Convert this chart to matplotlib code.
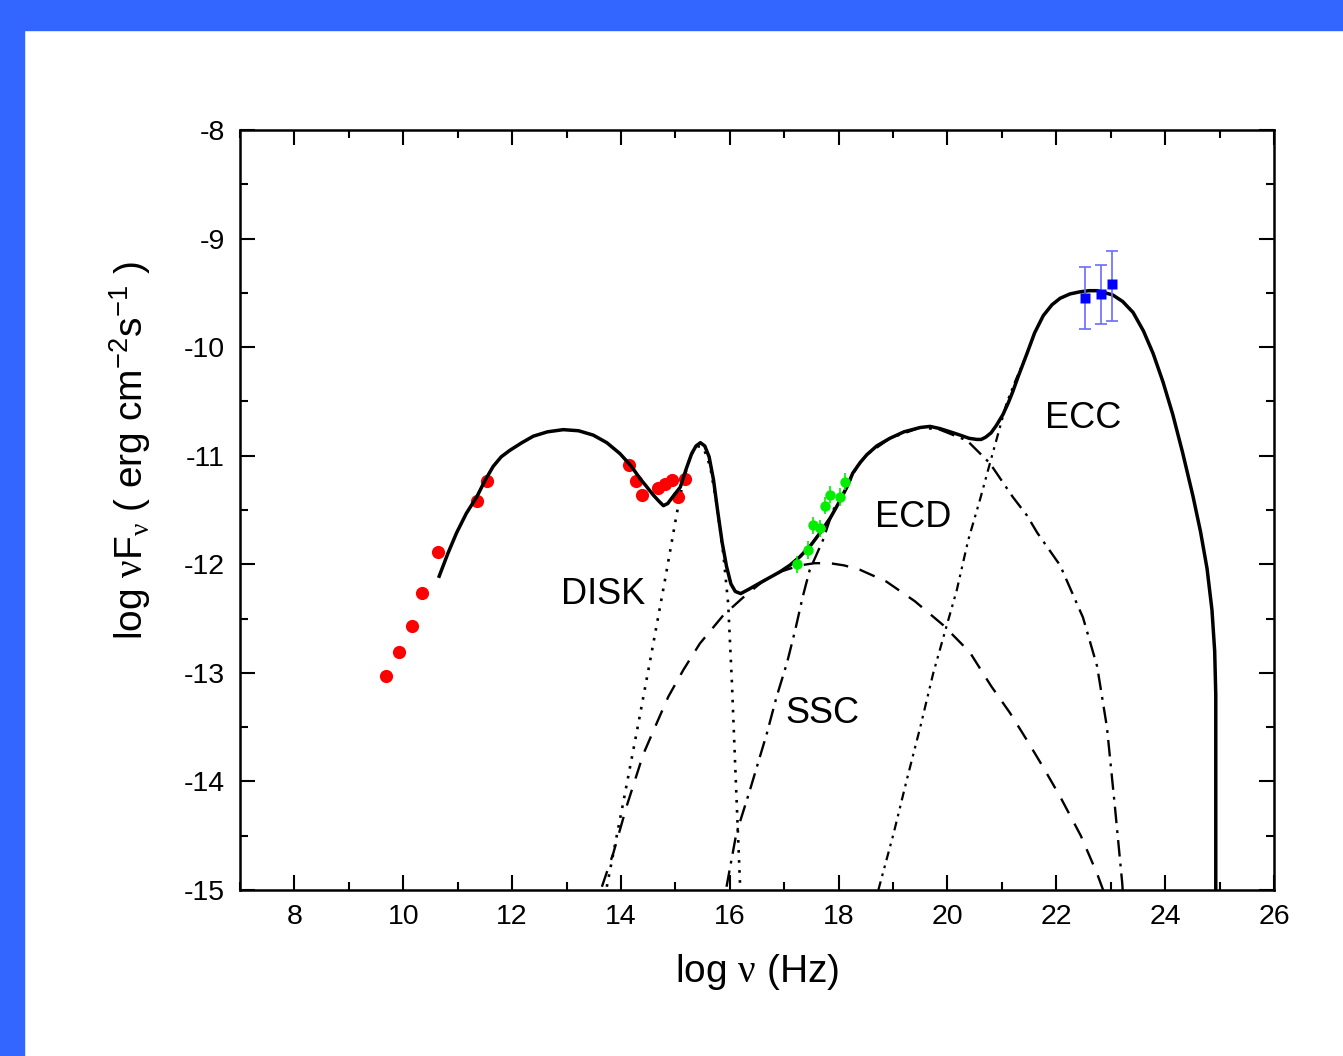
import numpy as np
import matplotlib
matplotlib.use('Agg')
import matplotlib.pyplot as plt
from matplotlib.patches import Rectangle
from matplotlib.ticker import MultipleLocator

plt.rcParams['font.family'] = ['Liberation Sans', 'DejaVu Sans']
plt.rcParams['axes.unicode_minus'] = False
plt.rcParams['mathtext.fontset'] = 'custom'
plt.rcParams['mathtext.rm'] = 'Liberation Sans'
plt.rcParams['mathtext.it'] = 'Liberation Serif'
plt.rcParams['mathtext.default'] = 'rm'

# observed points (log nu, log nuFnu)
red_x = [9.68, 9.92, 10.16, 10.34, 10.64, 11.355, 11.54, 14.15, 14.28, 14.39, 14.68, 14.81, 14.94, 15.05, 15.18]
red_y = [-13.03, -12.81, -12.57, -12.26, -11.89, -11.42, -11.23, -11.09, -11.23, -11.36, -11.30, -11.26, -11.22, -11.38, -11.21]

green_x = [17.23, 17.43, 17.53, 17.66, 17.75, 17.84, 18.03, 18.12]
green_y = [-12.00, -11.87, -11.64, -11.67, -11.46, -11.36, -11.38, -11.24]
green_err = [0.08, 0.08, 0.08, 0.08, 0.08, 0.08, 0.08, 0.08]

blue_x = [22.53, 22.82, 23.02]
blue_y = [-9.55, -9.51, -9.42]
blue_err_lo = [0.28, 0.28, 0.34]
blue_err_hi = [0.29, 0.27, 0.31]

# model curves
total_x = [10.66, 10.82, 10.98, 11.16, 11.35, 11.50, 11.65, 11.80, 11.96, 12.18, 12.39, 12.65, 12.94, 13.22, 13.49,
           13.74, 13.98, 14.18, 14.35, 14.48, 14.59, 14.70, 14.78, 14.86, 14.95, 15.09, 15.20, 15.30, 15.38,
           15.46, 15.54, 15.62, 15.70, 15.78, 15.86, 15.94, 16.02, 16.10, 16.20, 16.35, 16.56, 16.74, 16.92,
           17.10, 17.29, 17.48, 17.66, 17.85, 18.03, 18.15, 18.26, 18.40, 18.52, 18.70, 18.94, 19.20, 19.50,
           19.68, 19.86, 20.05, 20.23, 20.40, 20.54, 20.62, 20.70, 20.80, 20.90, 21.02, 21.12, 21.20, 21.30,
           21.46, 21.60, 21.76, 21.92, 22.07, 22.25, 22.44, 22.60, 22.75, 22.90, 23.04, 23.22, 23.41, 23.60,
           23.78, 23.96, 24.14, 24.32, 24.51, 24.65, 24.77, 24.86, 24.91, 24.93, 24.93]
total_y = [-12.11, -11.90, -11.71, -11.53, -11.38, -11.23, -11.10, -11.01, -10.95, -10.88, -10.82, -10.78, -10.76, -10.77, -10.81,
           -10.88, -10.98, -11.09, -11.21, -11.29, -11.36, -11.42, -11.46, -11.44, -11.38, -11.29, -11.12, -10.98, -10.91,
           -10.88, -10.91, -11.01, -11.22, -11.52, -11.80, -12.02, -12.18, -12.25, -12.27, -12.23, -12.17, -12.12, -12.07,
           -12.01, -11.93, -11.83, -11.71, -11.57, -11.41, -11.29, -11.16, -11.06, -10.99, -10.91, -10.84, -10.78, -10.74,
           -10.73, -10.75, -10.78, -10.81, -10.84, -10.85, -10.85, -10.83, -10.79, -10.72, -10.62, -10.51, -10.41, -10.27,
           -10.06, -9.87, -9.71, -9.61, -9.55, -9.51, -9.49, -9.48, -9.48, -9.50, -9.52, -9.58, -9.68, -9.85,
           -10.06, -10.32, -10.62, -10.97, -11.37, -11.70, -12.04, -12.42, -12.80, -13.20, -15.0]

disk_x = [13.74, 14.04, 14.30, 14.55, 14.80, 15.02, 15.15, 15.28, 15.40, 15.52, 15.64, 15.76, 15.88, 15.97, 16.04, 16.10, 16.19]
disk_y = [-14.97, -14.20, -13.52, -12.85, -12.17, -11.55, -11.22, -11.00, -10.91, -10.93, -11.10, -11.45, -11.90, -12.36, -13.10, -13.86, -14.97]

ssc_x = [13.65, 13.86, 14.11, 14.41, 14.66, 14.87, 15.15, 15.45, 15.88, 16.28, 16.60, 16.92, 17.29, 17.56, 17.84, 18.10,
         18.39, 18.88, 19.40, 19.92, 20.41, 20.80, 21.15, 21.46, 21.76, 22.07, 22.45, 22.75, 22.86]
ssc_y = [-14.97, -14.66, -14.22, -13.75, -13.46, -13.22, -12.97, -12.73, -12.47, -12.29, -12.16, -12.07, -12.01, -11.99, -11.99, -12.01,
         -12.05, -12.16, -12.34, -12.56, -12.81, -13.12, -13.37, -13.62, -13.87, -14.14, -14.50, -14.85, -15.0]

ecd_x = [15.94, 16.12, 16.37, 16.68, 16.86, 17.05, 17.20, 17.34, 17.47, 17.71, 17.90, 18.15, 18.34, 18.52, 18.94,
         19.50, 19.86, 20.36, 20.78, 21.20, 21.46, 21.65, 22.07, 22.49, 22.75, 22.93, 23.08, 23.21, 23.22]
ecd_y = [-14.97, -14.48, -14.08, -13.56, -13.22, -12.91, -12.61, -12.30, -12.05, -11.78, -11.50, -11.29, -11.10, -10.99, -10.84,
         -10.74, -10.76, -10.86, -11.07, -11.38, -11.55, -11.71, -12.01, -12.49, -12.94, -13.50, -14.25, -14.93, -15.0]

ecc_x = [18.73, 19.01, 19.25, 19.50, 19.74, 19.96, 20.17, 20.38, 20.60, 20.78, 21.09, 21.24, 21.46]
ecc_y = [-15.0, -14.48, -13.99, -13.50, -13.00, -12.61, -12.24, -11.78, -11.40, -11.07, -10.51, -10.32, -10.06]

labels = ['DISK', 'SSC', 'ECD', 'ECC']
label_x = [13.67, 17.71, 19.37, 22.49]
label_y = [-12.28, -13.37, -11.57, -10.66]

x_ticks = [8, 10, 12, 14, 16, 18, 20, 22, 24, 26]
y_ticks = [-8, -9, -10, -11, -12, -13, -14, -15]
y_tick_labels = ['-8', '-9', '-10', '-11', '-12', '-13', '-14', '-15']

fig = plt.figure(figsize=(13.43, 10.56), dpi=100)
ax = fig.add_axes([240/1343, 1-890/1056, 1034/1343, 760/1056])

# blue frame around the slide
fig.patches.append(Rectangle((0, 1-30/1056), 1, 30/1056, transform=fig.transFigure, color='#3366ff', zorder=-1))
fig.patches.append(Rectangle((0, 0), 24/1343, 1, transform=fig.transFigure, color='#3366ff', zorder=-1))

ax.plot(disk_x, disk_y, color='k', lw=1.9, linestyle=(0, (1, 2.8)))
ax.plot(ssc_x, ssc_y, color='k', lw=1.7, linestyle=(0, (7, 5)))
ax.plot(ecd_x, ecd_y, color='k', lw=1.7, linestyle=(0, (7, 3, 1.2, 3)))
ax.plot(ecc_x, ecc_y, color='k', lw=1.6, linestyle=(0, (4, 2.5, 1.2, 2.5, 1.2, 2.5)))

ax.plot(red_x, red_y, 'o', color='#ff0000', ms=9.5, mec='none', zorder=2)
ax.plot(total_x, total_y, 'k-', lw=2.5, zorder=3, solid_joinstyle='round')
ax.errorbar(green_x, green_y, yerr=green_err, fmt='o', color='#00ee00', ms=7.5, mec='none', elinewidth=1.2, capsize=0, zorder=4)
ax.errorbar(blue_x, blue_y, yerr=[blue_err_lo, blue_err_hi], fmt='s', color='#0000ff', ms=7.5, mec='none',
            ecolor='#6b6bff', elinewidth=1.2, capsize=4.5, capthick=1.2, zorder=4)

for t, lx, ly in zip(labels, label_x, label_y):
    ax.text(lx, ly, t, fontsize=26, ha='center', va='center')

ax.set_xlim(7, 26)
ax.set_ylim(-15, -8)
ax.set_xticks(x_ticks)
ax.set_yticks(y_ticks)
ax.set_yticklabels(y_tick_labels)
ax.xaxis.set_minor_locator(MultipleLocator(1))
ax.yaxis.set_minor_locator(MultipleLocator(0.5))
ax.tick_params(which='both', direction='in', top=True, right=True, labelsize=20.5, width=1.5)
ax.tick_params(which='major', length=11)
ax.tick_params(axis='x', which='major', pad=10)
ax.tick_params(axis='y', which='major', pad=11)
ax.tick_params(which='minor', length=6)
for s in ax.spines.values():
    s.set_linewidth(1.8)

ax.set_xlabel(r'log $\mathit{\nu}$ (Hz)', fontsize=28, labelpad=16)
ax.set_ylabel(r'log $\mathit{\nu}$F$_{\mathit{\nu}}$ ( erg cm$^{-2}$s$^{-1}$ )', fontsize=28)
ax.yaxis.set_label_coords(-0.084, 0.578)

fig.savefig('out.png', dpi=100)
